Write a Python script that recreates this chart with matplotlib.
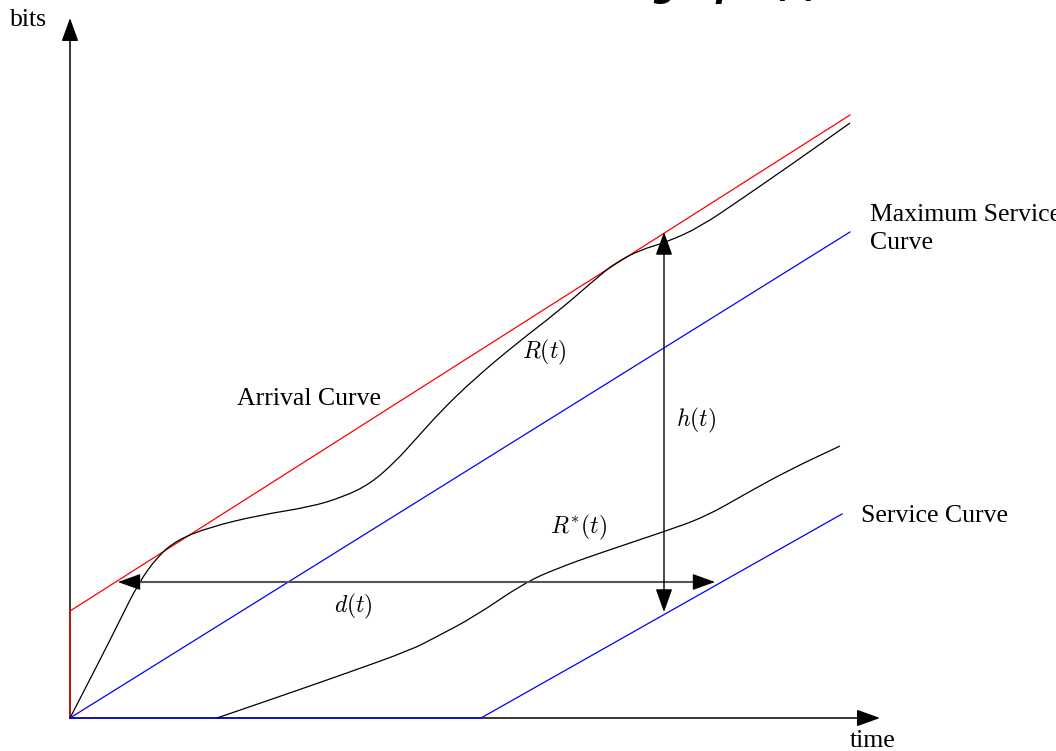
import matplotlib
matplotlib.use("Agg")
import matplotlib.pyplot as plt
from matplotlib.path import Path
from matplotlib.patches import PathPatch

# ---- data (time, bits) ----
arrival_t = [0, 0, 780]
arrival_b = [0, 107, 603]

max_service_t = [0, 780]
max_service_b = [0, 486]

service_t = [0, 411, 772]
service_b = [0, 0, 204]

R_t = [0, 30, 50, 68, 87, 107, 140, 190, 240, 273, 300, 325, 345, 370, 403, 447,
       490, 530, 547, 570, 597, 630, 670, 725, 780]
R_b = [0, 58, 98, 134, 161, 178, 191, 203, 211, 221, 234, 256, 278, 306, 338, 375,
       408, 443, 456, 468, 476, 491, 518, 556, 595]

Rs_t = [147, 214, 277, 341, 366, 404, 454, 488, 530, 593, 635, 677, 719, 770]
Rs_b = [0, 23, 45, 68, 81, 101, 135, 150, 165, 186, 201, 225, 248, 272]

d_level = 136
d_from, d_to = 48, 645
h_time = 594
h_from, h_to = 486, 106

x_axis_end = 810
y_axis_end = 700

fig = plt.figure(figsize=(10.56, 7.51), dpi=100)
ax = fig.add_axes([0, 0, 1, 1])
ax.set_xlim(-70, 986)
ax.set_ylim(-33, 718)
ax.axis('off')

serif = ['Liberation Serif', 'DejaVu Serif']
plt.rcParams['mathtext.fontset'] = 'cm'


def smooth(xs, ys, **kw):
    pts = list(zip(xs, ys))
    verts = [pts[0]]
    codes = [Path.MOVETO]
    for i in range(1, len(pts) - 1):
        mx = (pts[i][0] + pts[i + 1][0]) / 2
        my = (pts[i][1] + pts[i + 1][1]) / 2
        verts += [pts[i], (mx, my)]
        codes += [Path.CURVE3, Path.CURVE3]
    verts.append(pts[-1])
    codes.append(Path.LINETO)
    ax.add_patch(PathPatch(Path(verts, codes), fill=False, **kw))


HEAD = ',head_length=1.0,head_width=0.36'


def arrow(x0, y0, x1, y1, color='black', lw=1.0, z=5):
    ax.annotate('', xy=(x1, y1), xytext=(x0, y0),
                arrowprops=dict(arrowstyle='-|>' + HEAD,
                                mutation_scale=14.4, lw=lw, color=color,
                                shrinkA=0, shrinkB=0),
                zorder=z)

# axes with arrows
arrow(0, 0, 0, y_axis_end, lw=1.1, z=1)
arrow(0, 0, x_axis_end, 0, lw=1.1, z=1)

# curves
ax.plot(arrival_t, arrival_b, color='red', lw=0.9, zorder=3)
ax.plot(max_service_t, max_service_b, color='blue', lw=0.9, zorder=3)
ax.plot(service_t, service_b, color='blue', lw=0.9, zorder=3)
smooth(R_t, R_b, color='black', lw=0.9, zorder=4)
smooth(Rs_t, Rs_b, color='black', lw=0.9, zorder=4)

# d(t): gray shaft, black heads
ax.plot([d_from + 10, d_to - 10], [d_level, d_level], color='#555555', lw=1.5,
        solid_capstyle='butt', zorder=5)
arrow(d_from + 12, d_level, d_from, d_level, lw=0.8, z=6)
arrow(d_to - 12, d_level, d_to, d_level, lw=0.8, z=6)

# h(t)
ax.annotate('', xy=(h_time, h_to), xytext=(h_time, h_from),
            arrowprops=dict(arrowstyle='<|-|>' + HEAD,
                            mutation_scale=14.4, lw=1.0, color='black',
                            shrinkA=0, shrinkB=0),
            zorder=5)

fs = 18.5
ax.text(-60, 698, 'bits', family=serif, fontsize=fs, ha='left', va='center')
ax.text(803, -23, 'time', family=serif, fontsize=fs, ha='center', va='center')
ax.text(167, 319, 'Arrival Curve', family=serif, fontsize=fs, ha='left', va='center')
ax.text(800, 489, 'Maximum Service\nCurve', family=serif, fontsize=fs, ha='left',
        va='center', linespacing=1.3)
ax.text(791, 202, 'Service Curve', family=serif, fontsize=fs, ha='left', va='center')
ax.text(452, 366, r'$R(t)$', fontsize=17, ha='left', va='center')
ax.text(480, 191, r'$R^{*}(t)$', fontsize=17, ha='left', va='center')
ax.text(606, 298, r'$h(t)$', fontsize=17, ha='left', va='center')
ax.text(264, 112, r'$d(t)$', fontsize=17, ha='left', va='center')

# clipped title at the very top
fig.text(822 / 1056, 1 + 2.5 / 751, 'graph (t)', fontsize=24, fontweight='bold',
         fontstyle='italic', family='DejaVu Sans', ha='right', va='baseline')

fig.savefig('out.png', dpi=100)
